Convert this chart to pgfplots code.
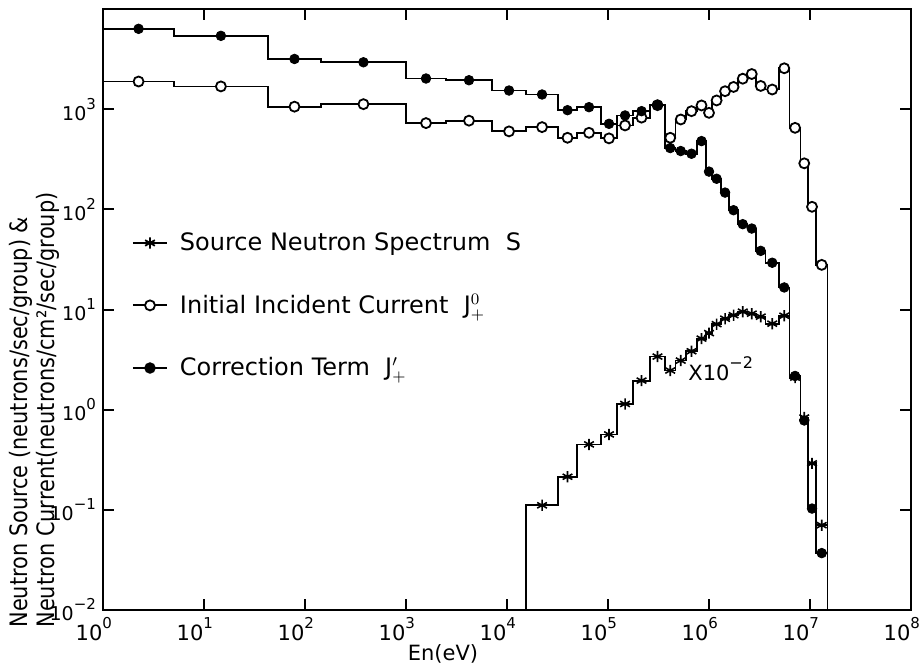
\documentclass[border=0pt]{standalone}
\usepackage{fontspec}
\setmainfont{DejaVu Sans}
\newfontfamily\ylabfont[FakeStretch=0.87]{DejaVu Sans}
\usepackage{pgfplots}
\pgfplotsset{compat=1.18}
\newcommand{\tl}[1]{10\raisebox{1.05ex}{\fontsize{7.5}{8}\selectfont #1}}
\begin{document}
\begin{tikzpicture}
\begin{axis}[
  scale only axis, width=404pt, height=300.5pt,
  xmode=log, ymode=log,
  xmin=1, xmax=1e8, ymin=1e-2, ymax=1e4,
  axis line style={line width=1.2pt},
  xtick={1,10,100,1000,1e4,1e5,1e6,1e7,1e8},
  xticklabels={\tl{0},\tl{1},\tl{2},\tl{3},\tl{4},\tl{5},\tl{6},\tl{7},\tl{8}},
  ytick={0.01,0.1,1,10,100,1000},
  yticklabels={\tl{−2},\tl{−1},\tl{0},\tl{1},\tl{2},\tl{3}},
  xminorticks=false, yminorticks=false,
  major tick length=5.5pt,
  tick style={line width=1pt, black},
  x tick label style={font=\fontsize{10.5}{12}\selectfont, anchor=north east, xshift=8pt},
  y tick label style={font=\fontsize{9.5}{11}\selectfont},
  legend style={at={(axis description cs:0.028,0.642)}, anchor=north west, draw=none, fill=none,
    font=\fontsize{12}{14}\selectfont, row sep=16.5pt},
  legend cell align=left,
]
% step lines
\addplot[const plot, black, line width=0.9pt, forget plot] coordinates {
(1,6340) (5.05,5395) (43.1,3170) (144,2938) (1000,2023) (2489,1945) (7096,1535)
(15420,1401) (31990,977) (49320,1047) (85310,714) (122700,865) (177000,955)
(260600,1096) (366400,409) (465600,382) (591600,359) (760300,480) (933300,238)
(1071500,202) (1315000,147) (1578000,98) (1936000,71.1) (2404000,64.3)
(2917000,38.5) (3622000,29.3) (4932000,16.6) (6266000,2.17) (8054000,0.780)
(9550000,0.103) (11455000,0.037) (14890000,0.01)};
\addplot[const plot, black, line width=0.9pt, forget plot] coordinates {
(1,1888) (5.05,1687) (43.1,1059) (144,1122) (1000,726) (2489,768) (7096,600)
(15420,662) (31990,518) (49320,581) (85310,511) (122700,688) (177000,823)
(260600,1096) (366400,518) (465600,789) (591600,955) (760300,1089) (933300,919)
(1071500,1222) (1315000,1511) (1578000,1667) (1936000,2014) (2404000,2243)
(2917000,1706) (3622000,1571) (4932000,2560) (6266000,651) (8054000,288)
(9550000,106) (11455000,27.9) (14890000,0.01)};
\addplot[const plot, black, line width=0.9pt, forget plot] coordinates {
(15420,0.01) (15420,0.111) (31990,0.214) (49320,0.450) (85310,0.566)
(122700,1.14) (177000,1.95) (260600,3.39) (366400,2.46) (465600,3.09)
(591600,3.83) (760300,5.12) (933300,5.81) (1071500,7.14) (1315000,8.09)
(1578000,8.77) (1936000,9.51) (2404000,9.08) (2917000,8.48) (3622000,7.22)
(4932000,8.67) (6266000,2.09) (8054000,0.835) (9550000,0.291) (11455000,0.0703)
(14890000,0.01)};
% open circle marks (initial incident current)
\addplot[only marks, mark=*, mark size=2.5pt, mark options={fill=white, draw=black, line width=0.9pt}, forget plot] coordinates {
(2.25,1888) (14.7,1687) (78.7,1059) (379,1122) (1578,726) (4204,768) (10470,600)
(22230,662) (39720,518) (64860,581) (102300,511) (147500,688) (214800,823)
(309000,1096) (413000,518) (524800,789) (671000,955) (843000,1089) (1.0e6,919)
(1.189e6,1222) (1.442e6,1511) (1.750e6,1667) (2.158e6,2014) (2.649e6,2243)
(3.251e6,1706) (4.227e6,1571) (5.559e6,2560) (7.112e6,651) (8.770e6,288)
(1.047e7,106) (1.306e7,27.9)};
% filled marks (correction term)
\addplot[only marks, mark=*, mark size=2.4pt, mark options={fill=black, draw=black}, forget plot] coordinates {
(2.25,6340) (14.7,5395) (78.7,3170) (379,2938) (1578,2023) (4204,1945) (10470,1535)
(22230,1401) (39720,977) (64860,1047) (102300,714) (147500,865) (214800,955)
(309000,1096) (413000,409) (524800,382) (671000,359) (843000,480) (1.0e6,238)
(1.189e6,202) (1.442e6,147) (1.750e6,98) (2.158e6,71.1) (2.649e6,64.3)
(3.251e6,38.5) (4.227e6,29.3) (5.559e6,16.6) (7.112e6,2.17) (8.770e6,0.780)
(1.047e7,0.103) (1.306e7,0.037)};
% star marks (source spectrum)
\addplot[only marks, mark=asterisk, mark size=2.8pt, mark options={black, line width=0.8pt}, forget plot] coordinates {
(22230,0.111) (39720,0.214) (64860,0.450) (102300,0.566) (147500,1.14)
(214800,1.95) (309000,3.39) (413000,2.46) (524800,3.09) (671000,3.83)
(843000,5.12) (1.0e6,5.81) (1.189e6,7.14) (1.442e6,8.09) (1.750e6,8.77)
(2.158e6,9.51) (2.649e6,9.08) (3.251e6,8.48) (4.227e6,7.22) (5.559e6,8.67)
(7.112e6,2.09) (8.770e6,0.835) (1.047e7,0.291) (1.306e7,0.0703)};
% legend
\addlegendimage{black, line width=0.9pt, mark=asterisk, mark size=2.8pt}
\addlegendentry{\hspace{4pt}Source Neutron Spectrum\ \ S}
\addlegendimage{black, line width=0.9pt, mark=*, mark size=2.5pt, mark options={fill=white}}
\addlegendentry{\hspace{4pt}Initial Incident Current\ \ J$^{0}_{+}$}
\addlegendimage{black, line width=0.9pt, mark=*, mark size=2.4pt, mark options={fill=black}}
\addlegendentry{\hspace{4pt}Correction Term\ \ J$'_{+}$}
\node[anchor=base west, inner sep=0pt, font=\fontsize{10.5}{12}\selectfont] at (axis cs:6.19e5,1.95) {X10\raisebox{1.05ex}{\fontsize{8}{8}\selectfont −2}};
\end{axis}
\node[anchor=north, inner sep=0pt, font=\fontsize{10.5}{12}\selectfont] at (170pt,-17pt) {En(eV)};
\node[rotate=90, anchor=north west, align=left, inner sep=0pt, font=\ylabfont\fontsize{12}{13.5}\selectfont] at (-47pt,-9pt)
  {Neutron Source (neutrons/sec/group) \&\\Neutron Current(neutrons/cm²/sec/group)};
\pgfresetboundingbox
\path[use as bounding box] (-51.5pt,-27pt) rectangle (408pt,305pt);
\end{tikzpicture}
\end{document}
